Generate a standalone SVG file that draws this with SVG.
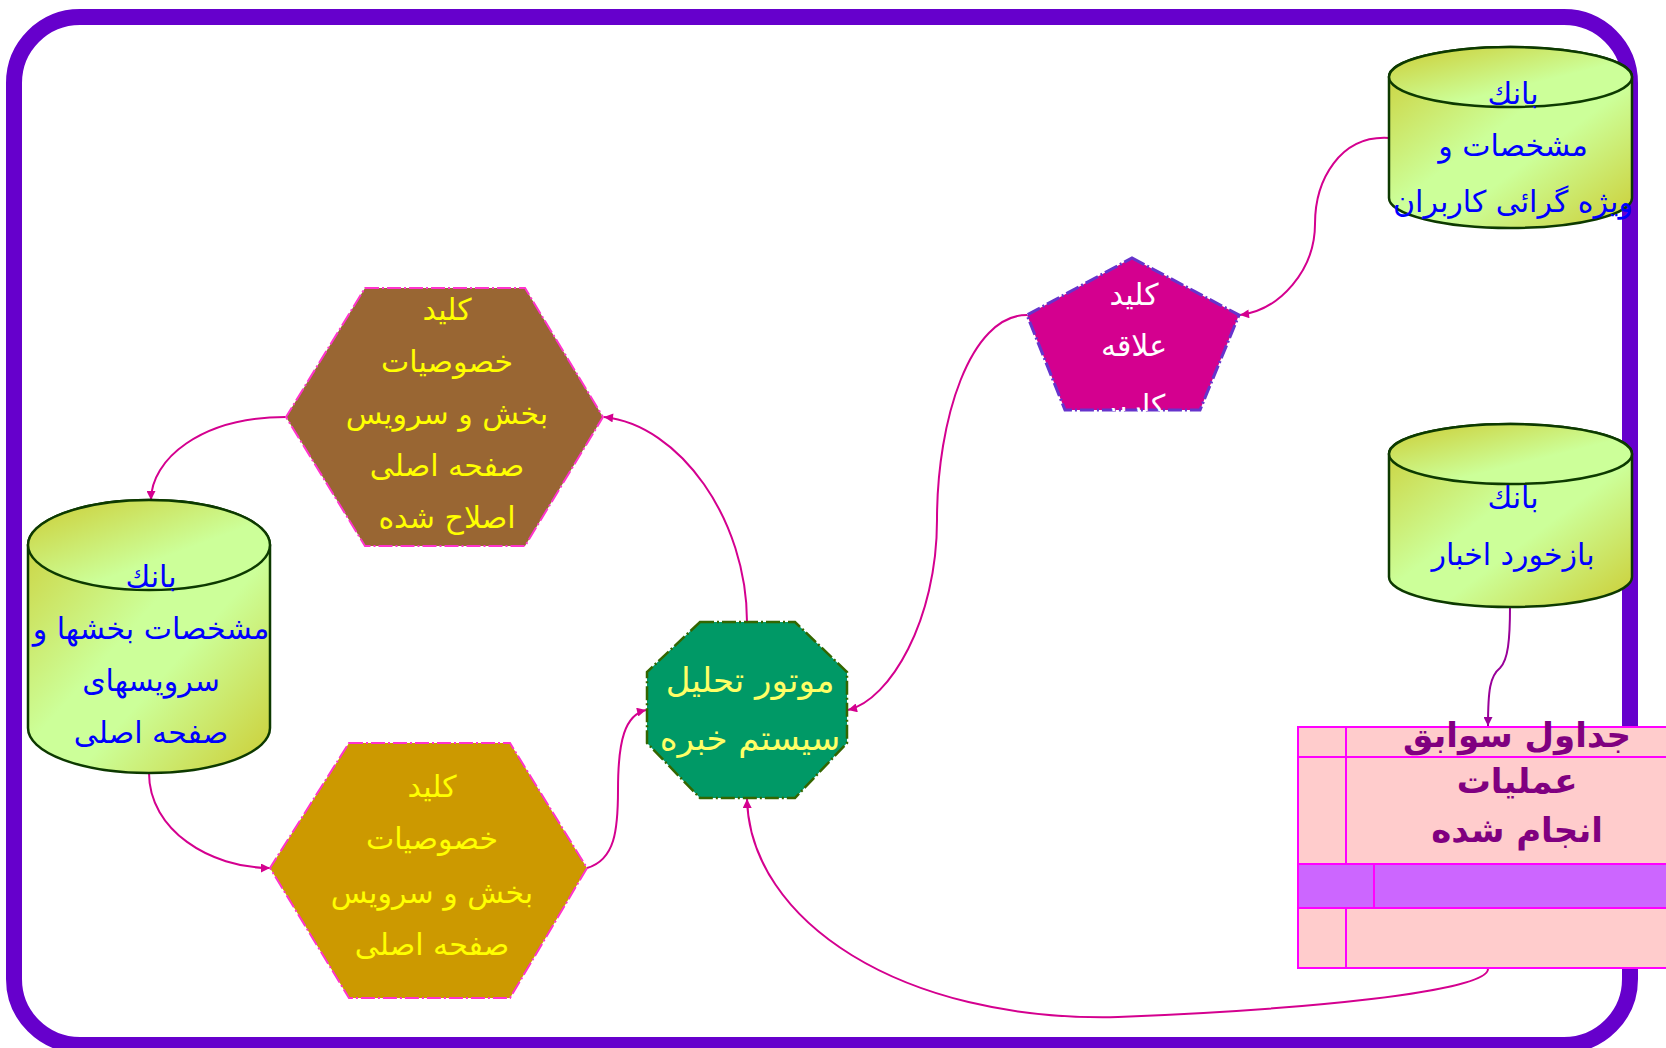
<svg xmlns="http://www.w3.org/2000/svg" width="1666" height="1048" viewBox="0 0 1666 1048">
<defs>
<style>
.t{font-family:"DejaVu Sans",sans-serif;text-anchor:middle}
.cyl{fill:url(#gb);stroke:#0D3A00;stroke-width:2.5}
.cyltop{fill:url(#gt);stroke:#0D3A00;stroke-width:2.5}
.blue{fill:#0000FF;font-size:30px}
.hex{stroke:#FF33CC;stroke-width:2;stroke-dasharray:14 3 2 3}
.yel{fill:#FFFF00;font-size:30px}
.con{fill:none;stroke:#D4008F;stroke-width:2}
.tb{fill:#FFCCCC;stroke:#FF00FF;stroke-width:2}
</style>
<linearGradient id="gb" x1="0" y1="0" x2="1" y2="1">
<stop offset="0" stop-color="#CCCC33"/>
<stop offset="0.45" stop-color="#CCFF99"/>
<stop offset="0.6" stop-color="#CCFF99"/>
<stop offset="1" stop-color="#CCCC33"/>
</linearGradient>
<linearGradient id="gt" x1="0" y1="0" x2="1" y2="1">
<stop offset="0" stop-color="#CCCC33"/>
<stop offset="0.6" stop-color="#CCFF99"/>
<stop offset="1" stop-color="#CCFF99"/>
</linearGradient>
<marker id="ah" viewBox="0 0 10 10" refX="10" refY="5" markerWidth="11" markerHeight="9" markerUnits="userSpaceOnUse" orient="auto">
<path d="M0,0 L10,5 L0,10 Z" fill="#D4008F"/>
</marker>
<marker id="ahp" viewBox="0 0 10 10" refX="10" refY="5" markerWidth="11" markerHeight="9" markerUnits="userSpaceOnUse" orient="auto">
<path d="M0,0 L10,5 L0,10 Z" fill="#990099"/>
</marker>
<clipPath id="pclip"><rect x="1020" y="250" width="230" height="161"/></clipPath>
</defs>
<rect x="0" y="0" width="1666" height="1048" fill="#FFFFFF"/>
<rect id="frame" x="14" y="17" width="1616" height="1028" rx="66" ry="66" fill="none" stroke="#6600CC" stroke-width="16"/>

<g id="connectors">
<path class="con" d="M1389,138 C1340,135 1315,180 1315,224 C1315,270 1280,310 1240,315" marker-end="url(#ah)"/>
<path class="con" d="M1027,315 C970,315 937,420 937,520 C937,620 890,700 848,710" marker-end="url(#ah)"/>
<path class="con" d="M747,622 C747,520 680,425 604,417" marker-end="url(#ah)"/>
<path class="con" d="M286,417 C200,417 151,460 151,500" marker-end="url(#ah)"/>
<path class="con" d="M149,773 C149,830 210,868 270,868" marker-end="url(#ah)"/>
<path class="con" d="M587,868 C615,860 618,830 618,790 C618,740 625,715 646,710" marker-end="url(#ah)"/>
<path class="con" d="M1488,969 C1488,992 1300,1010 1118,1017 C900,1022 750,920 747,799" marker-end="url(#ah)"/>
<path d="M1510,607 C1510,640 1508,660 1500,668 C1490,676 1488,690 1488,726" fill="none" stroke="#990099" stroke-width="2" marker-end="url(#ahp)"/>
</g>

<g id="bank-users">
<path class="cyl" d="M1389,77 L1389,198 A121.5,30 0 0 0 1632,198 L1632,77 A121.5,30 0 0 0 1389,77 Z"/>
<ellipse class="cyltop" cx="1510.5" cy="77" rx="121.5" ry="30"/>
<text class="t blue" x="1513" y="104">بانك</text>
<text class="t blue" x="1513" y="156">مشخصات و</text>
<text class="t blue" x="1513" y="212">ویژه گرائی کاربران</text>
</g>

<g id="bank-news">
<path class="cyl" d="M1389,454 L1389,577 A121.5,30 0 0 0 1632,577 L1632,454 A121.5,30 0 0 0 1389,454 Z"/>
<ellipse class="cyltop" cx="1510.5" cy="454" rx="121.5" ry="30"/>
<text class="t blue" x="1513" y="508">بانك</text>
<text class="t blue" x="1513" y="565">بازخورد اخبار</text>
</g>

<g id="bank-sections">
<path class="cyl" d="M28,545 L28,728 A121,45 0 0 0 270,728 L270,545 A121,45 0 0 0 28,545 Z"/>
<ellipse class="cyltop" cx="149" cy="545" rx="121" ry="45"/>
<text class="t blue" x="151" y="587">بانك</text>
<text class="t blue" x="151" y="639">مشخصات  بخشها و</text>
<text class="t blue" x="151" y="691">سرويسهای</text>
<text class="t blue" x="151" y="743">صفحه اصلی</text>
</g>

<g id="key-interest">
<polygon points="1132,258 1239,315 1200,410 1065,410 1027,315" fill="#D4008F" stroke="#6633CC" stroke-width="3" stroke-dasharray="14 3 2 3"/>
<g clip-path="url(#pclip)">
<text class="t" x="1134" y="305" fill="#FFFFFF" font-size="30">كليد</text>
<text class="t" x="1134" y="356" fill="#FFFFFF" font-size="30">علاقه</text>
<text class="t" x="1134" y="416" fill="#FFFFFF" font-size="30">کاربر</text>
</g>
</g>

<g id="key-modified">
<polygon class="hex" points="365,288 525,288 603,417 525,546 365,546 286,417" fill="#996633"/>
<text class="t yel" x="447" y="320">كليد</text>
<text class="t yel" x="447" y="372">خصوصيات</text>
<text class="t yel" x="447" y="424">بخش و سرويس</text>
<text class="t yel" x="447" y="476">صفحه اصلی</text>
<text class="t yel" x="447" y="528">اصلاح شده</text>
</g>

<g id="key-main">
<polygon class="hex" points="349,743 510,743 587,868 510,998 349,998 270,868" fill="#CC9900"/>
<text class="t yel" x="432" y="797">كليد</text>
<text class="t yel" x="432" y="849">خصوصيات</text>
<text class="t yel" x="432" y="903">بخش و سرويس</text>
<text class="t yel" x="432" y="955">صفحه اصلی</text>
</g>

<g id="engine">
<polygon points="700,622 795,622 847,672 847,743 795,798 700,798 647,743 647,672" fill="#009966" stroke="#336600" stroke-width="2.5" stroke-dasharray="14 3 2 3"/>
<text class="t" x="750" y="692" fill="#FFFF66" font-size="34">موتور تحليل</text>
<text class="t" x="750" y="750" fill="#FFFF66" font-size="34">سيستم خبره</text>
</g>

<g id="history-table">
<rect class="tb" x="1298" y="727" width="420" height="241"/>
<rect x="1298" y="864" width="420" height="44" fill="#CC66FF" stroke="#FF00FF" stroke-width="2"/>
<line x1="1298" y1="757" x2="1718" y2="757" stroke="#FF00FF" stroke-width="2"/>
<line x1="1346" y1="727" x2="1346" y2="864" stroke="#FF00FF" stroke-width="2"/>
<line x1="1374" y1="864" x2="1374" y2="908" stroke="#FF00FF" stroke-width="2"/>
<line x1="1346" y1="908" x2="1346" y2="968" stroke="#FF00FF" stroke-width="2"/>
<text class="t" x="1517" y="747" fill="#800080" font-size="34" font-weight="bold">جداول سوابق</text>
<text class="t" x="1517" y="793" fill="#800080" font-size="34" font-weight="bold">عمليات</text>
<text class="t" x="1517" y="842" fill="#800080" font-size="34" font-weight="bold">انجام شده</text>
</g>
</svg>
